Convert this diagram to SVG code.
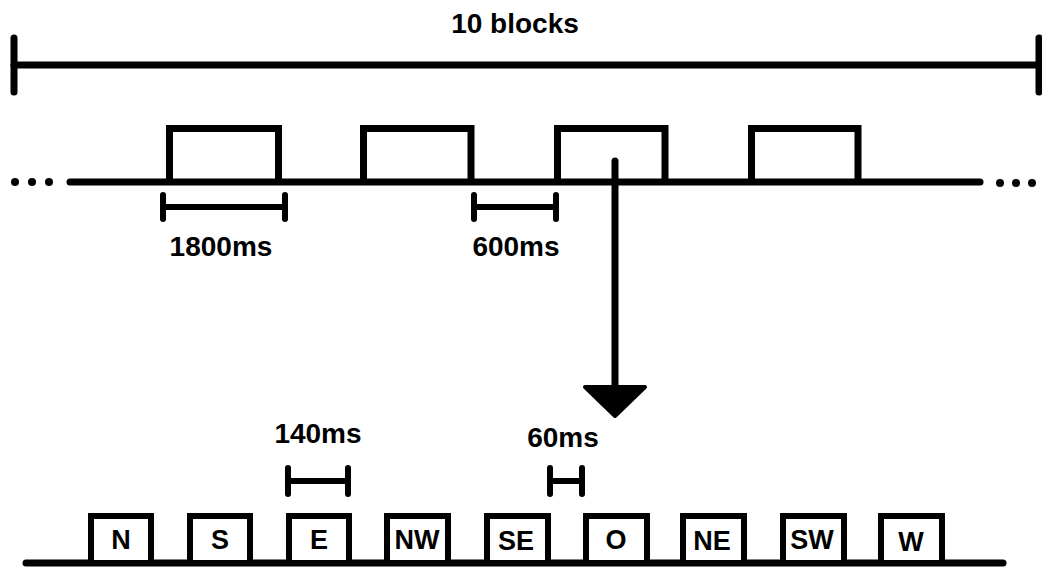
<svg xmlns="http://www.w3.org/2000/svg" width="1042" height="567" viewBox="0 0 1042 567">
<style>
.ln{stroke:#000;stroke-width:7;fill:none;stroke-linecap:round}
.bx{stroke:#000;stroke-width:7;fill:none;stroke-linecap:butt;stroke-linejoin:miter}
.sb{stroke:#000;stroke-width:6;fill:#fff}
.br{stroke:#000;stroke-width:6;fill:none;stroke-linecap:round}
.t{font-family:"Liberation Sans",Arial,sans-serif;font-weight:bold;font-size:28px;fill:#000;text-anchor:middle}
.l{font-family:"Liberation Sans",Arial,sans-serif;font-weight:bold;font-size:27px;fill:#000;text-anchor:middle}
</style>
<g id="span">
<line class="ln" x1="14" y1="65" x2="1039" y2="65"/>
<line class="ln" x1="14" y1="38" x2="14" y2="92"/>
<line class="ln" x1="1039" y1="38" x2="1039" y2="92"/>
<text class="t" x="515" y="33">10 blocks</text>
</g>
<g id="timeline">
<circle cx="15" cy="182" r="4"/><circle cx="32" cy="182" r="4"/><circle cx="49" cy="182" r="4"/>
<circle cx="1000" cy="183" r="4"/><circle cx="1016" cy="183" r="4"/><circle cx="1032" cy="183" r="4"/>
<line class="ln" x1="70" y1="182" x2="980" y2="182"/>
</g>
<g id="block1"><path class="bx" d="M169.5,182 V128.5 H278.5 V182"/></g>
<g id="block2"><path class="bx" d="M363.5,182 V128.5 H471 V182"/></g>
<g id="block3"><path class="bx" d="M557.5,182 V128.5 H665 V182"/></g>
<g id="block4"><path class="bx" d="M751.5,182 V128.5 H858 V182"/></g>
<g id="dur1800">
<line class="br" x1="163" y1="207" x2="285" y2="207"/>
<line class="br" x1="163" y1="195" x2="163" y2="219"/>
<line class="br" x1="285" y1="195" x2="285" y2="219"/>
<text class="t" x="221" y="256">1800ms</text>
</g>
<g id="dur600">
<line class="br" x1="474" y1="207" x2="556" y2="207"/>
<line class="br" x1="474" y1="195" x2="474" y2="219"/>
<line class="br" x1="556" y1="195" x2="556" y2="219"/>
<text class="t" x="516" y="256">600ms</text>
</g>
<g id="connectors">
<line class="ln" x1="615" y1="161" x2="615" y2="392"/>
<path d="M585,387 L645,387 L615,416 Z" fill="#000" stroke="#000" stroke-width="4" stroke-linejoin="round"/>
</g>
<g id="bottom">
<line class="ln" x1="26" y1="563" x2="1003" y2="563"/>
</g>
<g id="dur140">
<line class="br" x1="288" y1="481" x2="348" y2="481"/>
<line class="br" x1="288" y1="468" x2="288" y2="494"/>
<line class="br" x1="348" y1="468" x2="348" y2="494"/>
<text class="t" x="318" y="443">140ms</text>
</g>
<g id="dur60">
<line class="br" x1="550" y1="481" x2="582" y2="481"/>
<line class="br" x1="550" y1="468" x2="550" y2="494"/>
<line class="br" x1="582" y1="468" x2="582" y2="494"/>
<text class="t" x="563" y="447">60ms</text>
</g>
<g id="s-N"><rect class="sb" x="91" y="516" width="60" height="47"/><text class="l" x="121" y="549">N</text></g>
<g id="s-S"><rect class="sb" x="190" y="516" width="60" height="47"/><text class="l" x="220" y="549">S</text></g>
<g id="s-E"><rect class="sb" x="289" y="516" width="60" height="47"/><text class="l" x="319" y="549">E</text></g>
<g id="s-NW"><rect class="sb" x="387" y="516" width="61" height="47"/><text class="l" x="417" y="549">NW</text></g>
<g id="s-SE"><rect class="sb" x="487" y="516" width="61" height="47"/><text class="l" x="516" y="550">SE</text></g>
<g id="s-O"><rect class="sb" x="586" y="516" width="61" height="47"/><text class="l" x="616" y="549">O</text></g>
<g id="s-NE"><rect class="sb" x="683" y="516" width="61" height="47"/><text class="l" x="712" y="550">NE</text></g>
<g id="s-SW"><rect class="sb" x="783" y="516" width="61" height="47"/><text class="l" x="812" y="549">SW</text></g>
<g id="s-W"><rect class="sb" x="881" y="516" width="61" height="47"/><text class="l" x="911" y="551">W</text></g>
</svg>
